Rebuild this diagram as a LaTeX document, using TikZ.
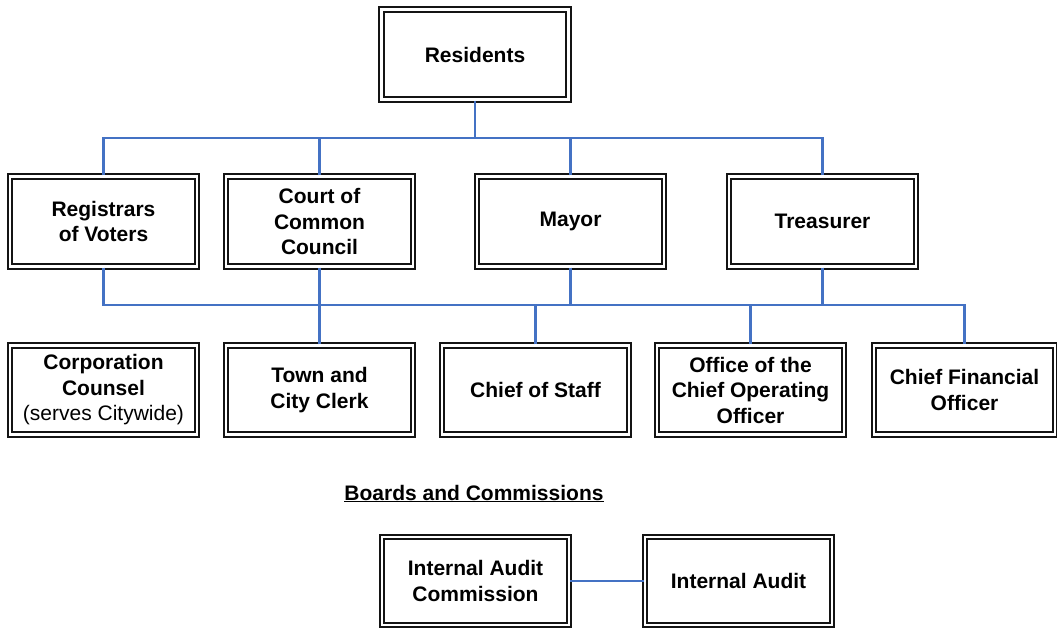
\documentclass[tikz,border=0pt]{standalone}
\usepackage{fontspec}
\setmainfont{Liberation Sans}
\definecolor{connblue}{HTML}{4472C4}
\definecolor{boxline}{HTML}{141414}
\begin{document}
\begin{tikzpicture}[x=1pt,y=-1pt,
  orgbox/.style={draw=boxline, double=white, line width=2.1pt, double distance=2.6pt,
    minimum width=187pt, minimum height=90pt, inner sep=0pt, align=center,
    font=\bfseries\fontsize{21}{25.5}\selectfont},
  conn/.style={draw=connblue, line width=2.3pt}]
\useasboundingbox (0,0) rectangle (1057,630);
% top
\node[orgbox] (res) at (475,54.5) {Residents};
% row 2
\node[orgbox] (reg) at (103.5,221.5) {Registrars\\of Voters};
\node[orgbox] (cou) at (319.5,221.5) {Court of\\Common\\Council};
\node[orgbox] (may) at (570.5,221.5) {Mayor};
\node[orgbox] (tre) at (822.5,221.5) {Treasurer};
% row 3
\node[orgbox, minimum height=89pt] (cor) at (103.5,390) {Corporation\\Counsel\\{\mdseries (serves Citywide)}};
\node[orgbox, minimum height=89pt] (tcc) at (319.5,390) {Town and\\City Clerk};
\node[orgbox, minimum height=89pt] (cos) at (535.5,390) {Chief of Staff};
\node[orgbox, minimum height=89pt] (coo) at (750.5,390) {Office of the\\Chief Operating\\Officer};
\node[orgbox, minimum height=89pt, minimum width=181pt] (cfo) at (964.5,390) {Chief Financial\\Officer};
% boards
\node[anchor=base, inner sep=0pt, font=\bfseries\fontsize{21}{25.5}\selectfont] (bc) at (474,500) {\underline{Boards and Commissions}};
\node[orgbox, minimum height=88pt] (iac) at (475.5,581) {Internal Audit\\Commission};
\node[orgbox, minimum height=88pt] (ia) at (738.5,581) {Internal Audit};
% buses
\coordinate (b1) at (0,138);
\coordinate (b2) at (0,305);
\draw[conn] (res.south) -- (res.south |- b1);
\draw[conn] (reg.north) -- (reg.north |- b1) -- (tre.north |- b1) -- (tre.north);
\draw[conn] (cou.north) -- (cou.north |- b1);
\draw[conn] (may.north) -- (may.north |- b1);
\draw[conn] (reg.south) -- (reg.south |- b2) -- (cfo.north |- b2) -- (cfo.north);
\draw[conn] (cou.south) -- (cou.south |- b2);
\draw[conn] (may.south) -- (may.south |- b2);
\draw[conn] (tre.south) -- (tre.south |- b2);
\draw[conn] (tcc.north) -- (tcc.north |- b2);
\draw[conn] (cos.north) -- (cos.north |- b2);
\draw[conn] (coo.north) -- (coo.north |- b2);
\draw[conn, line width=1.8pt] (iac.east) -- (ia.west);
\end{tikzpicture}
\end{document}
